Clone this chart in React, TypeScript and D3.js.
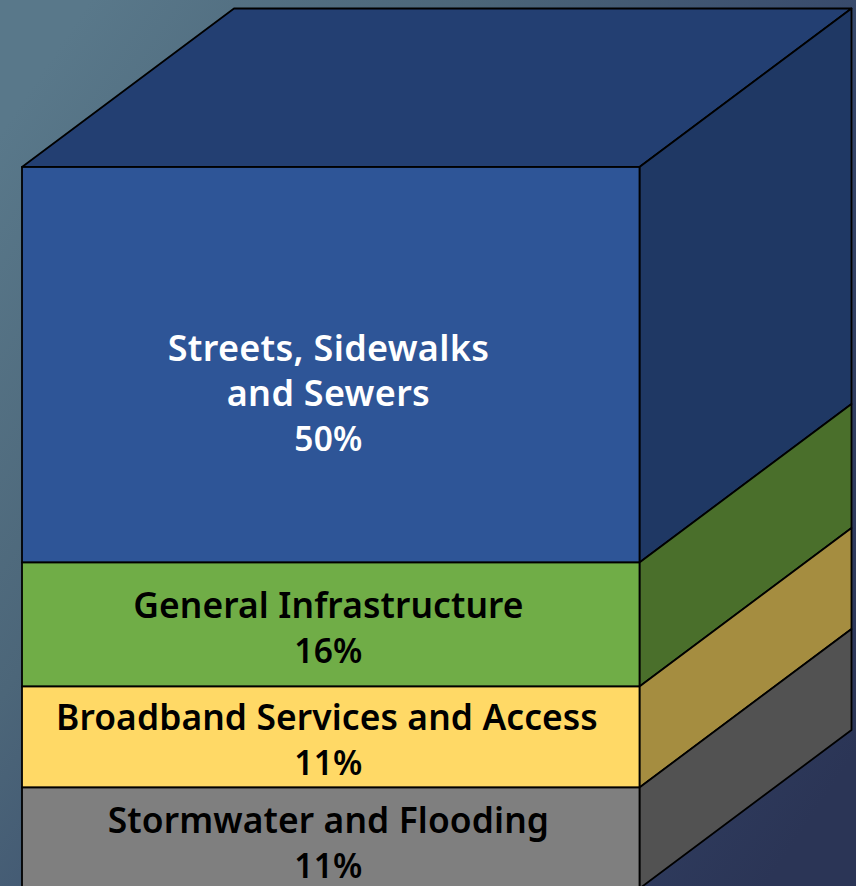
import React from "react";
import * as d3 from "d3";

const categories = ["Streets, Sidewalks|and Sewers", "General Infrastructure", "Broadband Services and Access", "Stormwater and Flooding"];
const percents = [50, 16, 11, 11];
// Drawn heights of the bands (the source is not to scale)
const drawnHeights = [395.5, 124, 101, 101];
const frontColors = ["#2e5597", "#70ad47", "#ffd966", "#7f7f7f"];
const sideColors = ["#1f3864", "#4a6f2b", "#a58d40", "#525252"];
const textColors = ["#ffffff", "#000000", "#000000", "#000000"];
const topColor = "#233f72";

const W = 856, H = 886;
const FONT = "'Noto Sans', 'Open Sans', sans-serif";

export default function App() {
  const total = d3.sum(drawnHeights);
  const y = d3.scaleLinear().domain([0, total]).range([167, 167 + total]);
  const x = d3.scaleLinear().domain([0, 1]).range([22, 639.5]);
  const depth = { dx: 212, dy: -158.5 };

  const cum = d3.cumsum(drawnHeights);
  const bands = categories.map((c, i) => {
    const v0 = i === 0 ? 0 : cum[i - 1];
    const v1 = cum[i];
    return { c, i, y0: y(v0), y1: y(v1) };
  });
  const poly = d3.line<[number, number]>();
  const lh = 45;

  return (
    <svg width={W} height={H} viewBox={`0 0 ${W} ${H}`} style={{ position: "absolute", left: 0, top: 0 }}>
      <defs>
        <linearGradient id="bg" x1="0" y1="0.15" x2="1" y2="0.85">
          <stop offset="0" stopColor="#59788a" />
          <stop offset="0.3" stopColor="#4c6679" />
          <stop offset="0.65" stopColor="#35466a" />
          <stop offset="1" stopColor="#2b3556" />
        </linearGradient>
      </defs>
      <rect width={W} height={H} fill="url(#bg)" />
      <path
        d={poly([[x(0), y(0)], [x(0) + depth.dx, y(0) + depth.dy], [x(1) + depth.dx, y(0) + depth.dy], [x(1), y(0)]]) + "Z"}
        fill={topColor} stroke="#000" strokeWidth={1.8} strokeLinejoin="round"
      />
      {bands.map((b) => (
        <g key={b.c}>
          <path
            d={poly([[x(1), b.y0], [x(1) + depth.dx, b.y0 + depth.dy], [x(1) + depth.dx, b.y1 + depth.dy], [x(1), b.y1]]) + "Z"}
            fill={sideColors[b.i]} stroke="#000" strokeWidth={1.8} strokeLinejoin="round"
          />
          <rect x={x(0)} y={b.y0} width={x(1) - x(0)} height={b.y1 - b.y0}
            fill={frontColors[b.i]} stroke="#000" strokeWidth={1.8} />
        </g>
      ))}
      {bands.map((b) => {
        const lines = [...b.c.split("|"), `${percents[b.i]}%`];
        const cx = (x(0) + x(1)) / 2 - 2.3;
        const cy = b.i === 0 ? 394 : (b.i === 1 ? 628 : b.i === 2 ? 740 : 843);
        return (
          <text key={b.c} textAnchor="middle" fontFamily={FONT} fontWeight={600} fill={textColors[b.i]}>
            {lines.map((l, j) => {
              const isPct = j === lines.length - 1;
              const shift = b.i === 2 && !isPct ? -1.5 : 0;
              return (
                <tspan key={j} x={cx + shift} y={cy + (j - (lines.length - 1) / 2) * lh + 12}
                  fontSize={isPct ? 33.5 : b.i === 0 ? 36 : 35.4}
                  letterSpacing={isPct ? 0.3 : b.i === 0 ? 0.3 : 0.1}>{l}</tspan>
              );
            })}
          </text>
        );
      })}
    </svg>
  );
}
